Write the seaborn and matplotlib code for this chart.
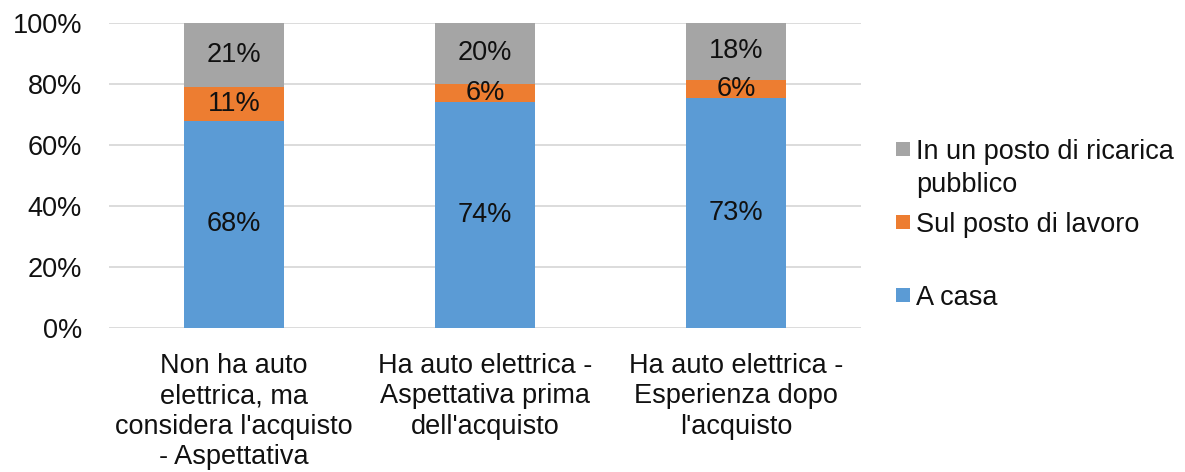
import matplotlib
matplotlib.use("Agg")
import matplotlib.pyplot as plt
from matplotlib.patches import Rectangle
import seaborn as sns
import pandas as pd
import numpy as np

categories = [
    "Non ha auto\nelettrica, ma\nconsidera l'acquisto\n- Aspettativa",
    "Ha auto elettrica -\nAspettativa prima\ndell'acquisto",
    "Ha auto elettrica -\nEsperienza dopo\nl'acquisto",
]
a_casa = [68, 74, 73]
sul_posto = [11, 6, 6]
pubblico = [21, 20, 18]
series_names = ["A casa", "Sul posto di lavoro", "In un posto di ricarica\npubblico"]
colors = ["#5B9BD5", "#ED7D31", "#A5A5A5"]
yticks = [0, 20, 40, 60, 80, 100]

sns.set_theme(style="white")
plt.rcParams["font.family"] = ["Liberation Sans", "DejaVu Sans"]

FS = 19.5
TXT = "#111111"

raw = np.array([a_casa, sul_posto, pubblico], dtype=float)
share = raw / raw.sum(axis=0) * 100
cum = np.cumsum(share, axis=0)

df = pd.DataFrame({
    "cat": categories * 3,
    "series": np.repeat(series_names, 3),
    "top": cum.flatten(),
    "share": share.flatten(),
    "raw": raw.flatten(),
})

W, H = 1185.0, 472.0
fig = plt.figure(figsize=(W / 100, H / 100), dpi=100)
ax = fig.add_axes([108.5 / W, 1 - 328 / H, (861.5 - 108.5) / W, (328 - 23) / H])

for i in [2, 1, 0]:
    sub = df[df["series"] == series_names[i]]
    sns.barplot(data=sub, x="cat", y="top", color=colors[i], width=0.4,
                saturation=1, ax=ax, linewidth=0, zorder=3)

for j in range(3):
    for i in range(3):
        center = cum[i, j] - share[i, j] / 2
        ax.text(j, center, f"{int(raw[i, j])}%", ha="center", va="center",
                fontsize=FS, color=TXT, zorder=5)

ax.set_ylim(0, 100)
ax.set_xlim(-0.5, 2.5)
ax.set_yticks(yticks)
ax.set_yticklabels([f"{v}%" for v in yticks], fontsize=FS, color=TXT)
ax.set_xticks(range(3))
ax.set_xticklabels(categories, fontsize=FS, color=TXT, linespacing=1.22)
ax.tick_params(axis="y", length=0, pad=19)
ax.tick_params(axis="x", length=0, pad=18)
ax.set_xlabel("")
ax.set_ylabel("")
ax.grid(axis="y", color="#D9D9D9", linewidth=1.3, zorder=0)
for s in ax.spines.values():
    s.set_visible(False)

# legend (reversed order, gray on top)
leg_items = [
    (series_names[2], colors[2], 149),
    (series_names[1], colors[1], 222),
    (series_names[0], colors[0], 295),
]
for label, col, ypx in leg_items:
    fig.patches.append(Rectangle((896 / W, 1 - (ypx + 7) / H), 14 / W, 14 / H,
                                 transform=fig.transFigure, facecolor=col,
                                 edgecolor="none"))
    for k, line in enumerate(label.split("\n")):
        fig.text(916 / W, 1 - (ypx + k * 33) / H, line, ha="left", va="center_baseline",
                 fontsize=FS, color=TXT)

fig.savefig("out.png", dpi=100)
